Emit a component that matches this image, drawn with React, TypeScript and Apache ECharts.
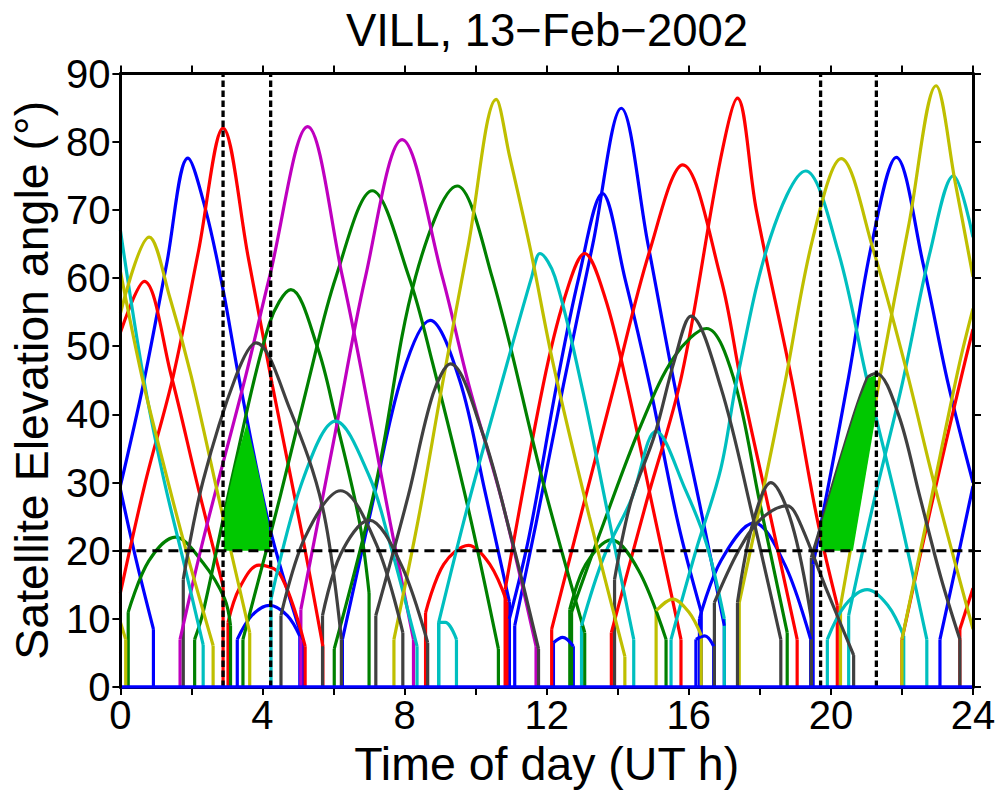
import { useEffect, useRef } from 'react';
import * as echarts from 'echarts';

type Pt = [number, number];

const TITLE = 'VILL, 13\u2212Feb\u22122002';
const X_NAME = 'Time of day (UT h)';
const Y_NAME = 'Satellite Elevation angle (\u00B0)';
const X_TICKS = [0, 4, 8, 12, 16, 20, 24];
const ELEV_MASK = 20;
const WINDOW_TIMES = [2.89, 4.23, 19.71, 21.28];

const bluePasses: Pt[][] = [
  [[0, 29], [0.45, 18.5], [0.93, 8.5]],
  [[0, 29.5], [0.64, 44.3], [1.3, 62], [1.9, 77.6], [2.4, 70], [2.89, 58.3], [3.35, 45], [4.2, 23.5], [5.13, 7]],
  [[3.29, 7], [3.7, 10.5], [4.2, 12], [4.7, 10.5], [5.05, 7.5]],
  [[6.25, 7], [7.1, 27], [7.93, 45.7], [8.72, 53.8], [9.55, 45], [10.25, 29], [10.95, 12.5]],
  [[11.1, 9], [11.7, 24], [12.47, 44.3], [13.3, 65], [14.1, 84.9], [14.85, 65], [15.6, 44.3], [16.3, 27], [17.0, 9]],
  [[10.95, 10], [11.5, 22], [12.28, 44.3], [12.9, 60], [13.57, 72.4], [14.2, 60], [14.9, 44.3], [15.7, 24], [16.35, 11]],
  [[12.19, 6.5], [12.45, 7.3], [12.75, 6]],
  [[16.2, 7], [16.45, 7.5], [16.7, 6]],
  [[16.3, 10], [16.9, 18.5], [17.84, 24.1], [18.7, 18], [19.43, 7]],
  [[19.5, 18], [20.0, 31.5], [20.5, 45.5], [21.15, 65], [21.84, 77.7], [22.6, 62], [23.3, 44.5], [24, 30]],
  [[23.07, 7], [23.55, 18.5], [24, 29.5]],
];

const redPasses: Pt[][] = [
  [[0, 52], [0.67, 59.5], [1.43, 45.7], [2.2, 29], [2.89, 14.8]],
  [[0, 13.8], [0.7, 30], [1.49, 45.7], [2.2, 64], [2.89, 82], [3.6, 63], [4.27, 44.5], [5.13, 22], [5.7, 6]],
  [[3.03, 9.5], [3.35, 14.5], [3.9, 17.9], [4.5, 16.5], [5.2, 6]],
  [[8.59, 10.9], [9.1, 18], [9.8, 20.8], [10.4, 18], [10.88, 12.5]],
  [[10.83, 14.3], [11.9, 44.3], [12.5, 57], [13.07, 63.6], [13.65, 57], [14.25, 44.5], [15.0, 26], [15.78, 7]],
  [[12.14, 8.5], [13.0, 26], [13.92, 44.5], [14.9, 64], [15.83, 76.6], [16.9, 60], [17.47, 44.8], [18.3, 25], [19.05, 7]],
  [[13.82, 8], [14.8, 27], [15.8, 45.7], [16.9, 77.6], [17.37, 86.4], [17.9, 70], [18.9, 45], [19.6, 25], [20.18, 12]],
  [[23.63, 8.5], [24, 14.5]],
  [[22.0, 7], [22.8, 26], [23.68, 45.7], [24, 52.5]],
];

const greenPasses: Pt[][] = [
  [[0.22, 11], [0.8, 18.5], [1.55, 22], [2.33, 18.2], [2.93, 13], [3.1, 9]],
  [[2.09, 7], [2.33, 11], [3.2, 32], [4.2, 53.4], [4.8, 58.3], [5.55, 49.8], [6.06, 39.4], [6.72, 24.5], [7.0, 13.8]],
  [[3.45, 7], [4.5, 28], [5.3, 45], [6.07, 60.2], [7.09, 72.8], [8.12, 60.2], [8.78, 47.7], [9.8, 26], [10.64, 5.6]],
  [[6.02, 5.6], [7.2, 30], [8.31, 60.2], [9.48, 73.5], [10.46, 60.2], [11.9, 30], [13.07, 8]],
  [[12.65, 11.4], [13.1, 18], [13.82, 21.6], [14.6, 17], [15.36, 7]],
  [[12.7, 11], [13.6, 24], [14.66, 38.5], [15.6, 48.5], [16.5, 52.6], [17.25, 45.5], [18.0, 27], [18.77, 8]],
];

const grayPasses: Pt[][] = [
  [[1.77, 15.8], [2.33, 30.3], [3.26, 45.7], [3.82, 50.5], [4.76, 40.9], [5.69, 26.4], [6.22, 7]],
  [[4.52, 10.5], [5.2, 22], [6.2, 28.8], [7.2, 21], [7.95, 8]],
  [[5.69, 10.5], [6.2, 19.5], [7.0, 24.5], [7.9, 18], [8.65, 6.5]],
  [[7.19, 10.5], [8.1, 28], [8.8, 43], [9.29, 47.4], [10.18, 37.5], [11.0, 22], [11.77, 5.6]],
  [[13.91, 15.8], [14.38, 27.4], [15.04, 37], [15.6, 48], [16.06, 54.4], [16.9, 44], [17.8, 25], [18.59, 7]],
  [[17.37, 12.4], [17.8, 24], [18.31, 30], [18.9, 24], [19.45, 10]],
  [[16.72, 12.4], [17.4, 20], [18.0, 24.5], [18.77, 26.6], [19.05, 25], [19.9, 14], [20.64, 4.7]],
  [[19.45, 19], [19.71, 23.5], [20.3, 34], [21.02, 45.3], [21.28, 46], [21.9, 40], [22.5, 28], [23.1, 16], [23.63, 7]],
];

const cyanPasses: Pt[][] = [
  [[0, 67], [0.64, 45.7], [1.2, 31], [1.77, 18.6], [2.33, 6.2]],
  [[4.24, 12.9], [5.13, 30.3], [6.06, 39], [7.0, 31], [7.56, 21.6], [8.35, 6]],
  [[8.96, 9.5], [9.8, 27], [10.7, 44], [11.58, 60.2], [11.81, 63.6], [12.23, 60.2], [12.98, 44.3], [13.7, 26], [14.45, 7]],
  [[8.96, 9.5], [9.15, 9.5], [9.46, 7]],
  [[12.98, 9], [13.6, 19], [14.38, 27.5], [15.08, 37.5], [15.9, 29], [16.5, 21], [17.0, 10]],
  [[15.5, 7], [16.2, 20], [16.9, 32], [17.37, 45.5], [18.3, 66], [19.29, 75.7], [20.2, 64], [21.02, 45], [21.9, 26], [22.7, 7]],
  [[19.9, 7], [20.4, 12], [21.02, 14.3], [21.6, 12], [22.05, 7.5]],
  [[20.5, 10.5], [21.2, 27], [22.0, 44.3], [22.8, 64], [23.45, 75], [24, 66]],
];

const yellowPasses: Pt[][] = [
  [[0, 9.5], [0.15, 7]],
  [[0, 61], [0.6, 45.7], [1.2, 33], [1.82, 20.6], [2.61, 6.1]],
  [[0, 54.8], [0.81, 66], [1.4, 57], [1.99, 45.7], [2.8, 27], [3.64, 8]],
  [[7.7, 7], [8.4, 25], [9.06, 44.3], [9.8, 65], [10.58, 86.2], [10.95, 78], [11.55, 64], [12.2, 47], [13.2, 25], [14.2, 4.5]],
  [[15.08, 11.2], [15.55, 12.9], [16.0, 11], [16.35, 7.6]],
  [[17.42, 12.4], [18.1, 29], [18.72, 45], [19.5, 66], [20.29, 77.5], [21.2, 64], [22.1, 47], [22.9, 30], [24, 8.5]],
  [[20.27, 11.9], [20.85, 29], [21.39, 45.7], [22.2, 68], [22.96, 88.2], [23.5, 74], [24, 60.2]],
  [[22.0, 7], [22.8, 27], [23.6, 47], [24, 55.5]],
];

const magentaPasses: Pt[][] = [
  [[1.68, 7], [2.33, 21.6], [3.53, 45.7], [4.2, 60.2], [5.27, 82.2], [6.25, 60.2], [6.8, 46], [7.6, 24], [8.25, 7]],
  [[5.08, 11.4], [6.0, 36], [6.9, 60.2], [7.93, 80.3], [9.06, 60.2], [9.81, 44.3], [10.74, 27.3], [11.7, 6]],
];

const fillAreas: Pt[][] = [
  [[2.91, 20], [2.91, 25.3], [3.2, 32], [3.56, 38.8], [3.9, 31.2], [4.17, 24.2], [4.22, 21.5], [4.22, 20]],
  [[19.71, 20], [19.71, 23.5], [20.3, 34], [20.75, 41.5], [21.05, 45.3], [21.27, 45.8], [21.27, 40], [20.62, 20]],
];

const groups = [
  { color: '#0000FF', passes: bluePasses },
  { color: '#FF0000', passes: redPasses },
  { color: '#008000', passes: greenPasses },
  { color: '#BF00BF', passes: magentaPasses },
  { color: '#00BFBF', passes: cyanPasses },
  { color: '#BFBF00', passes: yellowPasses },
  { color: '#404040', passes: grayPasses },
];

const FONT = '"Liberation Sans", Arial, Helvetica, sans-serif';
const LW = 3.2;

export default function App() {
  const ref = useRef<HTMLDivElement>(null);
  useEffect(() => {
    const chart = echarts.init(ref.current as HTMLDivElement, null, { renderer: 'svg' });
    const series: any[] = [];
    groups.forEach((g) => {
      g.passes.forEach((p) => {
        series.push({
          type: 'line', data: p, smooth: 0.35, symbol: 'none', silent: true,
          lineStyle: { color: g.color, width: LW }, z: 2,
        });
      });
      const drops: Pt[] = [];
      g.passes.forEach((p) => {
        const a = p[0];
        const b = p[p.length - 1];
        if (a[0] > 0.01) drops.push(a);
        if (b[0] < 23.99) drops.push(b);
      });
      series.push({
        type: 'custom', coordinateSystem: 'cartesian2d', data: drops, encode: { x: 0, y: 1 }, z: 2, silent: true,
        renderItem: (_params: any, api: any) => {
          const t = api.value(0);
          const e = api.value(1);
          const p0 = api.coord([t, 0]);
          const p1 = api.coord([t, e]);
          return { type: 'line', shape: { x1: p0[0], y1: p0[1], x2: p1[0], y2: p1[1] }, style: { stroke: g.color, lineWidth: LW } };
        },
      });
    });
    series.push({
      type: 'custom', coordinateSystem: 'cartesian2d', z: 3, silent: true,
      data: fillAreas.map((f) => f[0]), encode: { x: 0, y: 1 },
      renderItem: (params: any, api: any) => {
        const pts = fillAreas[params.dataIndex].map((p) => api.coord(p));
        return { type: 'polygon', shape: { points: pts }, style: { fill: '#00C800' } };
      },
    });
    series.push({
      type: 'line', data: [[0, ELEV_MASK], [24, ELEV_MASK]], symbol: 'none', silent: true, z: 4,
      lineStyle: { color: '#000', width: 3.2, type: [10, 6] },
    });
    WINDOW_TIMES.forEach((t) => {
      series.push({
        type: 'line', data: [[t, 0], [t, 90]], symbol: 'none', silent: true, z: 4,
        lineStyle: { color: '#000', width: 3.3, type: [6.5, 3.5] },
      });
    });
    series.push({
      type: 'line', data: [[0, 0], [24, 0]], symbol: 'none', silent: true, z: 5,
      lineStyle: { color: '#0000FF', width: 3.5 },
    });

    const axisLine = { show: true, onZero: false, lineStyle: { color: '#000', width: 3 } };
    const axisTick = { show: true, inside: false, length: 8, lineStyle: { color: '#000', width: 2 } };
    chart.setOption({
      animation: false,
      grid: { left: 117, right: 26, top: 73.5, bottom: 96.5, containLabel: false },
      graphic: [{
        type: 'text', x: 547, y: 7,
        style: { text: TITLE, fontSize: 45.5, fontFamily: FONT, fill: '#000', align: 'center', verticalAlign: 'top' },
      }],
      xAxis: [
        {
          type: 'value', min: 0, max: 24, interval: 2, position: 'bottom', z: 1,
          axisLine, axisTick, splitLine: { show: false },
          axisLabel: {
            color: '#000', fontSize: 40, fontFamily: FONT, margin: 8,
            formatter: (v: number) => (X_TICKS.includes(v) ? String(v) : ''),
          },
          name: X_NAME, nameLocation: 'middle', nameGap: 46,
          nameTextStyle: { color: '#000', fontSize: 46.5, fontFamily: FONT },
        },
        {
          type: 'value', min: 0, max: 24, interval: 2, position: 'top', z: 10,
          axisLine, axisTick, splitLine: { show: false }, axisLabel: { show: false },
        },
      ],
      yAxis: [
        {
          type: 'value', min: 0, max: 90, interval: 10, position: 'left', z: 10,
          axisLine, axisTick, splitLine: { show: false },
          axisLabel: { color: '#000', fontSize: 40, fontFamily: FONT, margin: 10 },
          name: Y_NAME, nameLocation: 'middle', nameGap: 59,
          nameTextStyle: { color: '#000', fontSize: 46.5, fontFamily: FONT },
        },
        {
          type: 'value', min: 0, max: 90, interval: 10, position: 'right', z: 10,
          axisLine, axisTick, splitLine: { show: false }, axisLabel: { show: false },
        },
      ],
      series,
    });
    return () => chart.dispose();
  }, []);
  return <div ref={ref} style={{ position: 'absolute', left: 0, top: 0, width: 999, height: 792 }} />;
}
